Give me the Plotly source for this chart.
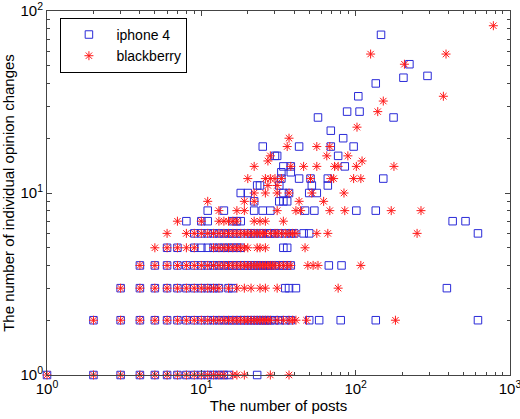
import plotly.graph_objects as go

# y level (opinion changes) and the post counts seen at that level
iphone_levels = [1, 2, 3, 4, 5, 6, 7, 8, 9, 10, 11, 12, 13, 14, 16, 18,
                 20, 22, 26, 28, 34, 40, 43, 44, 51, 74]
iphone_posts = [
    [1, 2, 3, 4, 5, 6, 7, 8, 9, 10, 11, 12, 13, 14, 15, 23],
    [2, 3, 4, 5, 6, 7, 8, 9, 10, 11, 12, 13, 14, 15, 16, 17, 18, 19, 20, 21,
     22, 23, 24, 25, 26, 27, 28, 30, 32, 35, 38, 50, 58, 80, 135, 620],
    [3, 4, 5, 6, 7, 8, 9, 10, 11, 12, 13, 15, 16, 35, 37, 41, 390],
    [4, 5, 6, 7, 8, 9, 10, 11, 12, 13, 14, 15, 16, 17, 18, 19, 20, 21, 22,
     23, 24, 25, 26, 27, 28, 30, 32, 34, 36, 38, 67, 81],
    [6, 7, 9, 10, 11, 12, 13, 14, 15, 16, 17, 18, 34, 36],
    [9, 10, 11, 12, 13, 14, 15, 16, 17, 18, 20, 21, 22, 24, 25, 27, 28, 30,
     32, 35, 38, 40, 46, 50, 620],
    [8, 10, 11, 16, 17, 18, 425, 515],
    [11, 14, 22, 25, 28, 47, 54, 101, 135],
    [22, 32, 34, 36],
    [18, 20, 34, 37, 50, 56],
    [23, 24, 32, 52, 66],
    [33, 43, 51, 66, 151],
    [33, 38],
    [34, 38, 85],
    [30, 31, 77],
    [25, 43, 69, 97],
    [83],
    [69],
    [57, 176],
    [88, 106],
    [104],
    [135],
    [204],
    [292],
    [223],
    [146],
]

bb_levels = [1, 2, 3, 4, 5, 6, 7, 8, 9, 10, 11, 12, 14, 15, 16, 18, 20, 23,
             28, 32, 34, 51, 58, 83]
bb_posts = [
    [1, 2, 3, 4, 5, 6, 7, 8, 9, 10, 11, 12, 13, 14, 16, 17, 19, 28, 37],
    [2, 3, 4, 5, 6, 7, 8, 9, 10, 11, 12, 13, 14, 15, 16, 17, 18, 19, 20, 21,
     22, 23, 24, 25, 26, 27, 28, 31, 34, 37, 39, 41, 48, 181],
    [3, 4, 5, 6, 7, 8, 9, 10, 11, 12, 13, 15, 17, 19, 21, 24, 26, 31, 77],
    [4, 5, 6, 7, 8, 9, 10, 11, 12, 13, 14, 15, 16, 17, 18, 19, 20, 21, 22,
     23, 24, 25, 26, 27, 28, 29, 30, 32, 34, 36, 38, 49, 53, 57, 108],
    [5, 6, 7, 8, 9, 12, 13, 14, 15, 16, 17, 18, 19, 20, 23, 24, 26, 47],
    [6, 8, 9, 10, 11, 12, 13, 14, 15, 16, 17, 18, 19, 20, 21, 22, 23, 24, 25,
     26, 28, 30, 31, 33, 35, 37, 39, 41, 56, 66, 250],
    [7, 10, 13, 14, 15, 16, 17, 22, 24, 26, 34],
    [13, 17, 19, 31, 41, 44, 68, 85, 170, 265],
    [11, 19, 22, 43, 62],
    [22, 26, 31, 37, 52, 84],
    [27, 31],
    [20, 26, 28, 30, 33, 51, 69, 72, 97, 108],
    [22, 38, 46, 56, 73, 77, 101, 177],
    [27, 110],
    [28, 65, 89],
    [36, 56, 68],
    [37],
    [102],
    [139],
    [151],
    [370],
    [207],
    [125, 385],
    [780],
]


def flatten(levels, posts):
    xs, ys = [], []
    for level, row in zip(levels, posts):
        xs.extend(row)
        ys.extend([level] * len(row))
    return xs, ys


ip_x, ip_y = flatten(iphone_levels, iphone_posts)
bb_x, bb_y = flatten(bb_levels, bb_posts)

fig = go.Figure()
fig.add_trace(go.Scatter(
    x=ip_x, y=ip_y, mode="markers", name="iphone 4", cliponaxis=False,
    marker=dict(symbol="square-open", size=7.5, color="#2a2ad8",
                line=dict(width=1, color="#2a2ad8")),
))
fig.add_trace(go.Scatter(
    x=bb_x, y=bb_y, mode="markers", name="blackberry", cliponaxis=False,
    marker=dict(symbol="asterisk-open", size=7.5, color="#ff1a1a",
                line=dict(width=1, color="#ff1a1a")),
))

font = dict(family="Liberation Sans, Arial, sans-serif", size=15, color="black")
minor_x = [m * 10 ** e for e in range(3) for m in range(2, 10)]
minor_y = [m * 10 ** e for e in range(2) for m in range(2, 10)]

fig.update_xaxes(
    type="log", range=[0, 3], automargin=False, ticklabeloverflow="allow",
    tickvals=[1, 10, 100, 1000],
    ticktext=["10<sup>0</sup>", "10<sup>1</sup>", "10<sup>2</sup>", "10<sup>3</sup>"],
    ticks="inside", ticklen=5, tickcolor="#444",
    minor=dict(tickvals=minor_x, ticks="inside", ticklen=3, tickcolor="#444"),
    showline=True, linecolor="#444", mirror="ticks",
    showgrid=False, zeroline=False,
    title=dict(text="The number of posts", font=font, standoff=4),
    tickfont=font,
)
fig.update_yaxes(
    type="log", range=[0, 2], automargin=False, ticklabeloverflow="allow",
    tickvals=[1, 10, 100],
    ticktext=["10<sup>0</sup>", "10<sup>1</sup>", "10<sup>2</sup>"],
    ticks="inside", ticklen=5, tickcolor="#444",
    minor=dict(tickvals=minor_y, ticks="inside", ticklen=3, tickcolor="#444"),
    showline=True, linecolor="#444", mirror="ticks",
    showgrid=False, zeroline=False,
    title=dict(text="The number of individual opinion changes", font=font, standoff=2),
    tickfont=font,
)

fig.update_layout(
    width=520, height=419,
    margin=dict(l=47, r=10, t=11, b=44),
    paper_bgcolor="white", plot_bgcolor="white",
    font=font,
    showlegend=True,
    legend=dict(
        x=0.029, y=0.981, xanchor="left", yanchor="top",
        bordercolor="black", borderwidth=1, bgcolor="white",
        font=dict(family=font["family"], size=14, color="black"),
        itemwidth=45, tracegroupgap=0,
    ),
)

# page body has a default 8px margin; drop it so the figure sits at 0,0
fig.write_html("out.html", config={"displayModeBar": False},
               post_script="document.body.style.margin='0';")
